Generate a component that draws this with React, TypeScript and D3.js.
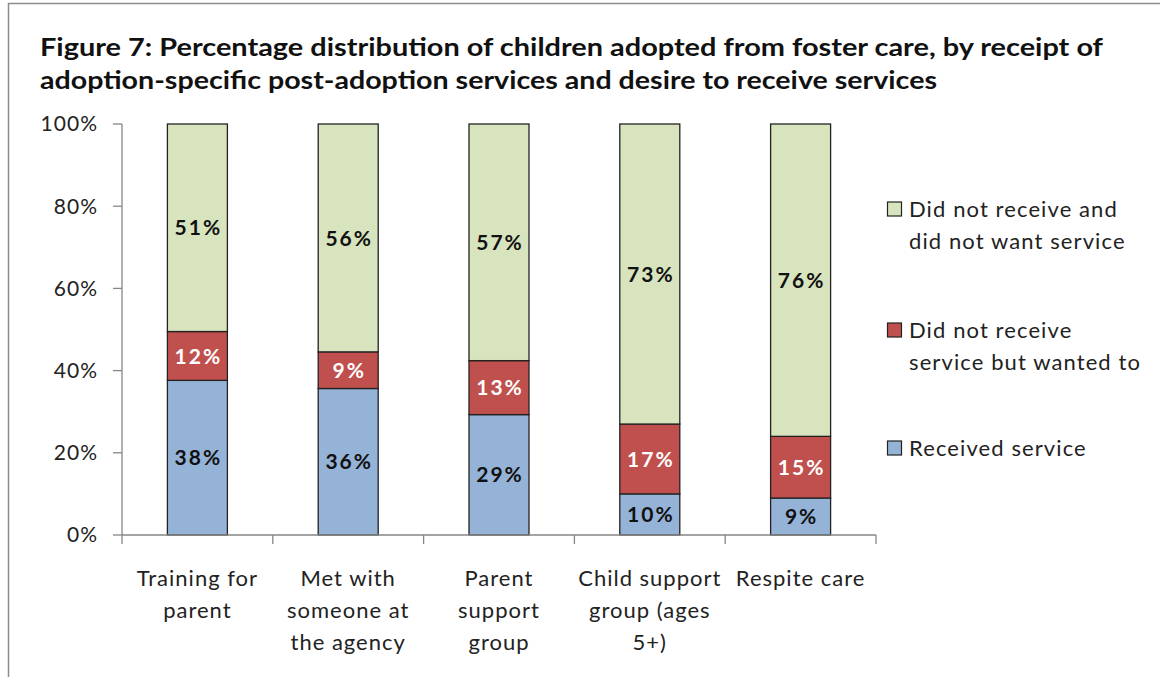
import React from "react";
import * as d3 from "d3";

const categories = [
  ["Training for", "parent"],
  ["Met with", "someone at", "the agency"],
  ["Parent", "support", "group"],
  ["Child support", "group (ages", "5+)"],
  ["Respite care"],
];
const received = [38, 36, 29, 10, 9];
const wantedNotReceived = [12, 9, 13, 17, 15];
const notWanted = [51, 56, 57, 73, 76];
const yTicks = [0, 20, 40, 60, 80, 100];

const seriesNames = [
  ["Did not receive and", "did not want service"],
  ["Did not receive", "service but wanted to"],
  ["Received service"],
];
const colors = { received: "#95B3D7", wanted: "#C0504D", notWanted: "#D7E4BD" };

const FONT = "Lato, 'Open Sans', sans-serif";

export default function App() {
  const left = 122, right = 876, top = 124, bottom = 535;
  const x = d3.scaleBand<number>().domain(d3.range(categories.length)).range([left, right]).paddingInner(0).paddingOuter(0);
  const y = d3.scaleLinear().domain([0, 100]).range([bottom, top]);
  const barW = 60;

  const keys = ["received", "wanted", "notWanted"] as const;
  const rows = categories.map((_, i) => {
    const total = received[i] + wantedNotReceived[i] + notWanted[i];
    return {
      received: (received[i] / total) * 100,
      wanted: (wantedNotReceived[i] / total) * 100,
      notWanted: (notWanted[i] / total) * 100,
      raw: { received: received[i], wanted: wantedNotReceived[i], notWanted: notWanted[i] },
    };
  });
  const stack = d3.stack<any>().keys(keys as any)(rows);

  return (
    <svg width={1160} height={677} style={{ position: "absolute", left: 0, top: 0, background: "#fff" }} fontFamily={FONT}>
      <rect x={8.5} y={3.5} width={1200} height={700} fill="#fff" stroke="#8c8c8c" strokeWidth={1.5} />
      <text x={40} y={56} fontSize={24} fontWeight="bold" fill="#111" textLength={1063} lengthAdjust="spacingAndGlyphs">
        Figure 7: Percentage distribution of children adopted from foster care, by receipt of
      </text>
      <text x={40} y={89} fontSize={24} fontWeight="bold" fill="#111" textLength={897} lengthAdjust="spacingAndGlyphs">
        adoption-specific post-adoption services and desire to receive services
      </text>

      {/* y axis */}
      <line x1={left} x2={left} y1={top} y2={bottom} stroke="#868686" strokeWidth={1.3} />
      {yTicks.map((t) => (
        <g key={t}>
          <line x1={left - 9} x2={left} y1={y(t)} y2={y(t)} stroke="#868686" strokeWidth={1.3} />
          <text x={98} y={y(t)} dy="0.35em" textAnchor="end" fontSize={21} letterSpacing={1} fill="#222">
            {t}%
          </text>
        </g>
      ))}

      {/* bars */}
      {stack.map((s) => (
        <g key={s.key}>
          {s.map((d, i) => {
            const cx = (x(i) as number) + x.bandwidth() / 2;
            const y0 = y(d[1]), y1 = y(d[0]);
            const key = s.key as keyof typeof colors;
            return (
              <g key={i}>
                <rect x={cx - barW / 2} y={y0} width={barW} height={y1 - y0} fill={colors[key]} stroke="#222" strokeWidth={1.3} />
                <text x={cx + 1} y={(y0 + y1) / 2} dy="0.36em" textAnchor="middle" fontSize={21} fontWeight="bold" letterSpacing={2}
                  fill={key === "wanted" ? "#fff" : "#111"}>
                  {rows[i].raw[key]}%
                </text>
              </g>
            );
          })}
        </g>
      ))}

      {/* x axis */}
      <line x1={left} x2={right} y1={bottom} y2={bottom} stroke="#868686" strokeWidth={1.3} />
      {d3.range(categories.length + 1).map((i) => {
        const xx = i < categories.length ? (x(i) as number) : right;
        return <line key={i} x1={xx} x2={xx} y1={bottom} y2={bottom + 9} stroke="#868686" strokeWidth={1.3} />;
      })}
      {categories.map((lines, i) => {
        const cx = (x(i) as number) + x.bandwidth() / 2;
        return (
          <text key={i} textAnchor="middle" fontSize={22} letterSpacing={1} fill="#222">
            {lines.map((l, j) => (
              <tspan key={j} x={cx} y={578 + j * 32} dy="0.35em">
                {l}
              </tspan>
            ))}
          </text>
        );
      })}

      {/* legend */}
      {[colors.notWanted, colors.wanted, colors.received].map((c, i) => {
        const ly = [209, 330, 448][i];
        return (
          <g key={i}>
            <rect x={887.5} y={ly - 7} width={14} height={14} fill={c} stroke="#222" strokeWidth={1.2} />
            <text fontSize={22} letterSpacing={1.1} fill="#222">
              {seriesNames[i].map((l, j) => (
                <tspan key={j} x={909} y={ly + j * 32} dy="0.35em">
                  {l}
                </tspan>
              ))}
            </text>
          </g>
        );
      })}
    </svg>
  );
}
